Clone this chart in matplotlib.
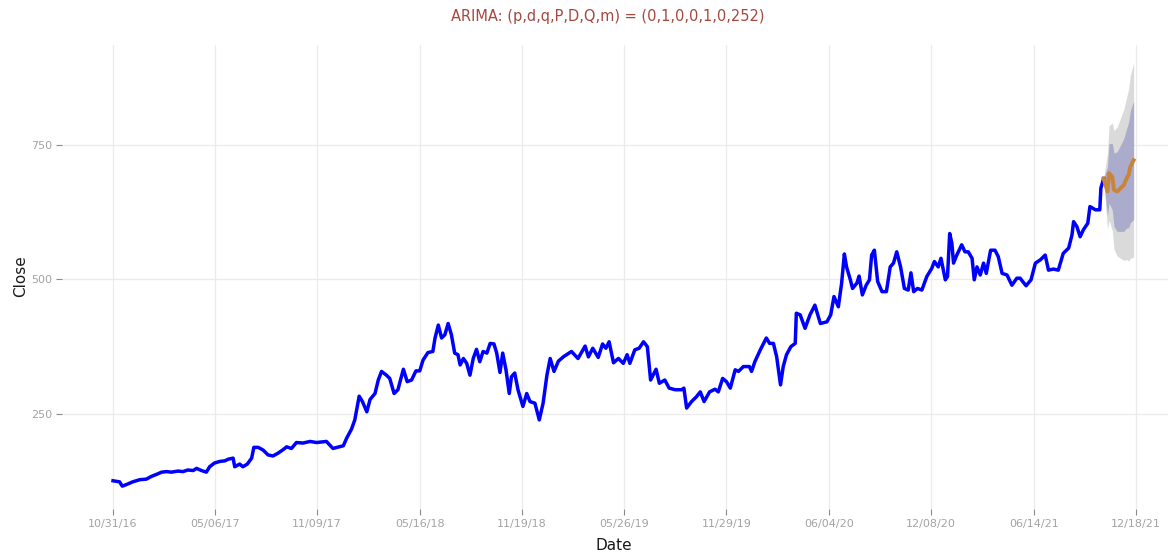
import pandas as pd
import numpy as np
import matplotlib
matplotlib.use('Agg')
import matplotlib.pyplot as plt
import matplotlib.dates as mdates

START = pd.Timestamp('2016-10-31')

# observed closing prices (days counted from START)
obs_days = [0, 12, 17, 27, 36, 49, 61, 70, 80, 89, 98, 107, 119, 128, 137, 147, 153, 162, 171, 177,
            186, 196, 205, 211, 220, 223, 232, 238, 246, 254, 258, 266, 275, 284, 293, 302, 312, 318,
            327, 336, 348, 361, 373, 391, 403, 422, 428, 437, 443, 451, 457, 465, 471, 480, 486, 492,
            501, 507, 515, 522, 532, 539, 547, 555, 562, 568, 577, 586, 590, 596, 602, 608, 614, 620,
            626, 632, 636, 642, 648, 654, 660, 666, 672, 678, 685, 691, 698, 703, 709, 714, 720, 726,
            730, 736, 742, 751, 758, 764, 773, 781, 788, 795, 801, 808, 816, 825, 840, 852, 865, 871,
            879, 889, 897, 903, 909, 917, 926, 935, 942, 947, 956, 964, 972, 979, 985, 995, 1001, 1011,
            1019, 1030, 1042, 1046, 1051, 1060, 1069, 1076, 1083, 1093, 1103, 1109, 1117, 1124, 1131,
            1140, 1146, 1155, 1166, 1170, 1176, 1186, 1197, 1203, 1210, 1216, 1223, 1228, 1234, 1242,
            1250, 1252, 1259, 1268, 1277, 1286, 1296, 1308, 1315, 1321, 1329, 1335, 1340, 1344, 1351,
            1355, 1363, 1367, 1373, 1380, 1386, 1390, 1395, 1401, 1409, 1417, 1424, 1430, 1436, 1443,
            1450, 1457, 1462, 1467, 1474, 1482, 1491, 1500, 1505, 1512, 1517, 1525, 1529, 1533, 1537,
            1540, 1546, 1555, 1561, 1567, 1574, 1578, 1583, 1589, 1595, 1600, 1608, 1616, 1622, 1629,
            1638, 1647, 1656, 1662, 1673, 1682, 1690, 1699, 1708, 1714, 1723, 1732, 1741, 1751, 1757,
            1760, 1766, 1772, 1778, 1786, 1790, 1800, 1808, 1810, 1815]
obs_close = [126, 124, 116, 120, 124, 128, 129, 134, 138, 142, 143, 142, 144, 143, 146, 145, 149, 145,
             142, 152, 159, 162, 163, 166, 168, 152, 157, 152, 157, 168, 188, 188, 183, 174, 172, 177,
             184, 189, 186, 197, 196, 199, 197, 199, 186, 191, 205, 222, 239, 283, 273, 254, 277, 288,
             313, 329, 322, 316, 288, 295, 333, 310, 313, 330, 330, 350, 364, 366, 391, 415, 391, 397,
             418, 397, 363, 360, 341, 353, 344, 322, 353, 370, 347, 366, 363, 381, 380, 363, 327, 363,
             332, 288, 319, 326, 295, 264, 288, 273, 270, 239, 270, 322, 353, 329, 348, 356, 366, 353,
             376, 356, 372, 355, 380, 372, 384, 345, 353, 344, 360, 344, 369, 372, 384, 375, 313, 333,
             307, 313, 298, 295, 295, 298, 261, 273, 282, 291, 273, 291, 296, 291, 316, 310, 298, 332,
             329, 338, 338, 329, 347, 369, 391, 381, 381, 356, 304, 338, 360, 375, 381, 437, 434, 409,
             434, 452, 418, 421, 434, 468, 449, 493, 547, 523, 499, 483, 493, 506, 471, 489, 499, 545,
             554, 496, 477, 477, 523, 530, 551, 523, 483, 480, 512, 477, 483, 480, 505, 520, 533, 523,
             539, 499, 505, 585, 567, 530, 545, 564, 551, 551, 539, 499, 523, 508, 530, 511, 554, 554,
             542, 511, 508, 489, 502, 502, 488, 499, 530, 536, 545, 517, 519, 517, 548, 558, 582, 607,
             598, 579, 592, 604, 635, 629, 629, 669, 687]

# ARIMA forecast with 80% / 95% intervals
fc_days = [1815, 1822, 1825, 1831, 1834, 1840, 1846, 1852, 1857, 1861, 1864, 1870]
fc_mean = [687, 663, 697, 690, 666, 663, 669, 675, 687, 694, 709, 721]
fc_lo80 = [687, 618, 642, 628, 598, 589, 589, 589, 595, 596, 605, 611]
fc_hi80 = [687, 708, 752, 752, 734, 737, 749, 761, 779, 792, 813, 831]
fc_lo95 = [687, 593, 609, 590, 556, 543, 539, 535, 537, 534, 539, 541]
fc_hi95 = [687, 733, 785, 790, 776, 783, 799, 815, 837, 854, 879, 901]

tick_dates = ['2016-10-31', '2017-05-06', '2017-11-09', '2018-05-16', '2018-11-19', '2019-05-26',
              '2019-11-29', '2020-06-04', '2020-12-08', '2021-06-14', '2021-12-18']
y_ticks = [250, 500, 750]

obs_x = START + pd.to_timedelta(obs_days, unit='D')
fc_x = START + pd.to_timedelta(fc_days, unit='D')

fig = plt.figure(figsize=(11.68, 5.54), dpi=100)
ax = fig.add_axes([62 / 1168, 1 - 509 / 554, 1 - 62 / 1168, (509 - 45) / 554])

ax.fill_between(fc_x, fc_lo95, fc_hi95, color='#dadada', lw=0, zorder=2)
ax.fill_between(fc_x, fc_lo80, fc_hi80, color='#ababcb', lw=0, zorder=3)
ax.plot(obs_x, obs_close, color='#0000ff', lw=2.5, zorder=4)
ax.plot(fc_x, fc_mean, color='#c9843a', lw=2.8, zorder=5)

ax.set_xlim(START - pd.Timedelta(days=93.5), START + pd.Timedelta(days=1933))
ax.set_ylim(73.6, 934.9)

ticks = pd.to_datetime(tick_dates)
ax.set_xticks(ticks)
ax.xaxis.set_major_formatter(mdates.DateFormatter('%m/%d/%y'))
ax.set_yticks(y_ticks)

ax.grid(True, color='#ebebeb', lw=0.9, zorder=0)
ax.set_axisbelow(True)
for s in ax.spines.values():
    s.set_visible(False)
ax.tick_params(length=4, width=0.8, color='#8a8a8a', labelcolor='#a3a3a3', labelsize=8, pad=3)

fig.text(0.52, 1 - 16 / 554, 'ARIMA: (p,d,q,P,D,Q,m) = (0,1,0,0,1,0,252)',
         ha='center', va='center', fontsize=10.5, color='#a5483e')
fig.text(614 / 1168, 1 - 545 / 554, 'Date', ha='center', va='center', fontsize=11, color='#1a1a1a')
fig.text(21 / 1168, 1 - 276 / 554, 'Close', ha='center', va='center', rotation=90,
         fontsize=11, color='#1a1a1a')

fig.savefig('out.png', dpi=100)
